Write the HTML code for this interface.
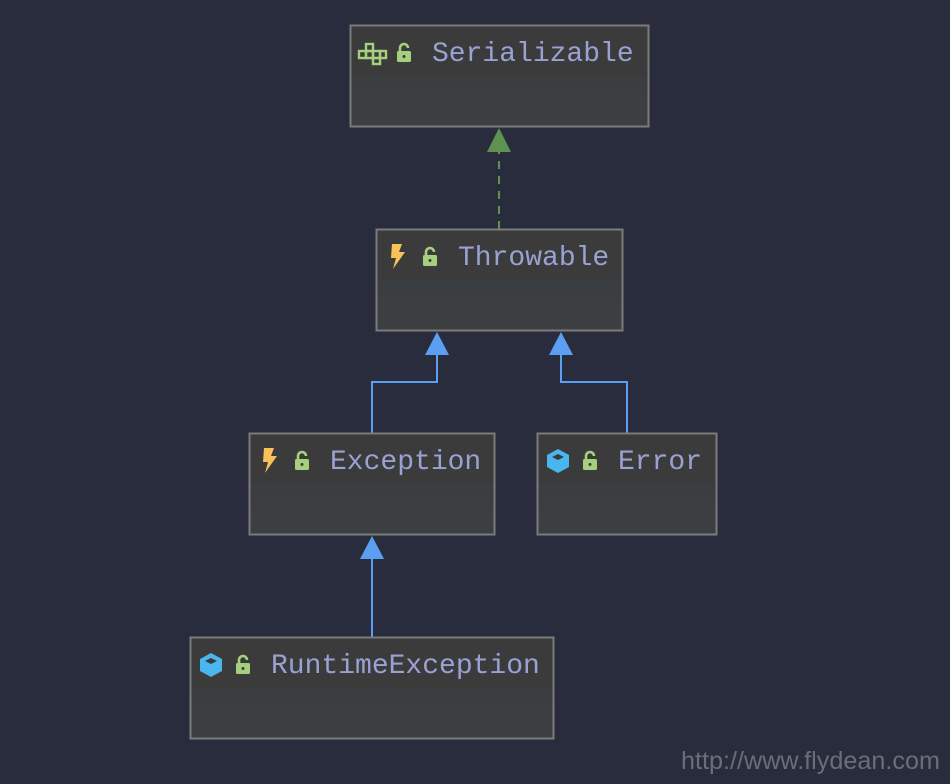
<!DOCTYPE html>
<html><head><meta charset="utf-8"><style>
html,body{margin:0;padding:0;background:#292c3c;}
svg{display:block}
text.t{font-family:"Liberation Mono","DejaVu Sans Mono",monospace;font-size:28px;fill:#9aa2d4;}
</style></head><body>
<svg width="950" height="784" viewBox="0 0 950 784" xmlns="http://www.w3.org/2000/svg">
<defs>
<linearGradient id="g" x1="0" y1="0" x2="0" y2="1">
<stop offset="0" stop-color="#3b3b3c"/><stop offset="0.5" stop-color="#3b3b3c"/><stop offset="0.5" stop-color="#3b3e41"/><stop offset="1" stop-color="#3c3f42"/>
</linearGradient>
<g id="lock"><path d="M-4 -1 v-3 a4 4 0 0 1 8 0" fill="none" stroke="#a5d07e" stroke-width="2.6"/><rect x="-7" y="-1" width="14" height="11" rx="1.5" fill="#a5d07e"/><circle cx="0" cy="4.5" r="1.5" fill="#3b3b3c"/></g>
<g id="bolt"><path d="M-6 -12 h10 l-3 8 h6 l-12 17 l3 -11 h-5 z" fill="#f9c15a"/></g>
<g id="cube"><path d="M0 -12 l11 6 v12 l-11 6 l-11 -6 v-12 z" fill="#4ab6f0"/><path d="M0 -7 l6 3 l-6 3 l-6 -3 z" fill="#3b3b3c"/></g>
</defs>
<line x1="499" y1="229" x2="499" y2="150" stroke="#5f9150" stroke-width="2" stroke-dasharray="8,7"/>
<path d="M499 128 L511 152 L487 152 Z" fill="#5f9150"/>
<path d="M372 433 V382 H437 V354" fill="none" stroke="#5a9ff2" stroke-width="2"/>
<path d="M437 332 L449 355 L425 355 Z" fill="#5a9ff2"/>
<path d="M627 433 V382 H561 V354" fill="none" stroke="#5a9ff2" stroke-width="2"/>
<path d="M561 332 L573 355 L549 355 Z" fill="#5a9ff2"/>
<path d="M372 637 V557" fill="none" stroke="#5a9ff2" stroke-width="2"/>
<path d="M372 536 L384 559 L360 559 Z" fill="#5a9ff2"/>
<rect x="350.5" y="25.5" width="298" height="101" fill="url(#g)" stroke="#7b7b7b" stroke-width="2"/>
<rect x="376.5" y="229.5" width="246" height="101" fill="url(#g)" stroke="#7b7b7b" stroke-width="2"/>
<rect x="249.5" y="433.5" width="245" height="101" fill="url(#g)" stroke="#7b7b7b" stroke-width="2"/>
<rect x="537.5" y="433.5" width="179" height="101" fill="url(#g)" stroke="#7b7b7b" stroke-width="2"/>
<rect x="190.5" y="637.5" width="363" height="101" fill="url(#g)" stroke="#7b7b7b" stroke-width="2"/>
<g fill="none" stroke="#a5d07e" stroke-width="2.4">
<rect x="366" y="44" width="7" height="7"/><rect x="359" y="51" width="7" height="7"/><rect x="366" y="51" width="7" height="7"/><rect x="373" y="51" width="7" height="7"/><rect x="380" y="51" width="6" height="7"/><rect x="373" y="58" width="7" height="6"/>
</g>
<use href="#lock" x="404" y="52"/>
<text class="t" x="432" y="61">Serializable</text>
<use href="#bolt" x="398" y="256"/>
<use href="#lock" x="430" y="256"/>
<text class="t" x="458" y="265">Throwable</text>
<use href="#bolt" x="270" y="460"/>
<use href="#lock" x="302" y="460"/>
<text class="t" x="330" y="469">Exception</text>
<use href="#cube" x="558" y="461"/>
<use href="#lock" x="590" y="460"/>
<text class="t" x="618" y="469">Error</text>
<use href="#cube" x="211" y="665"/>
<use href="#lock" x="243" y="664"/>
<text class="t" x="271" y="673">RuntimeException</text>
<text x="940" y="769" text-anchor="end" font-family="Liberation Sans, sans-serif" font-size="25" fill="#6b6e76" textLength="259" lengthAdjust="spacingAndGlyphs">http://www.flydean.com</text>
</svg>
</body></html>
